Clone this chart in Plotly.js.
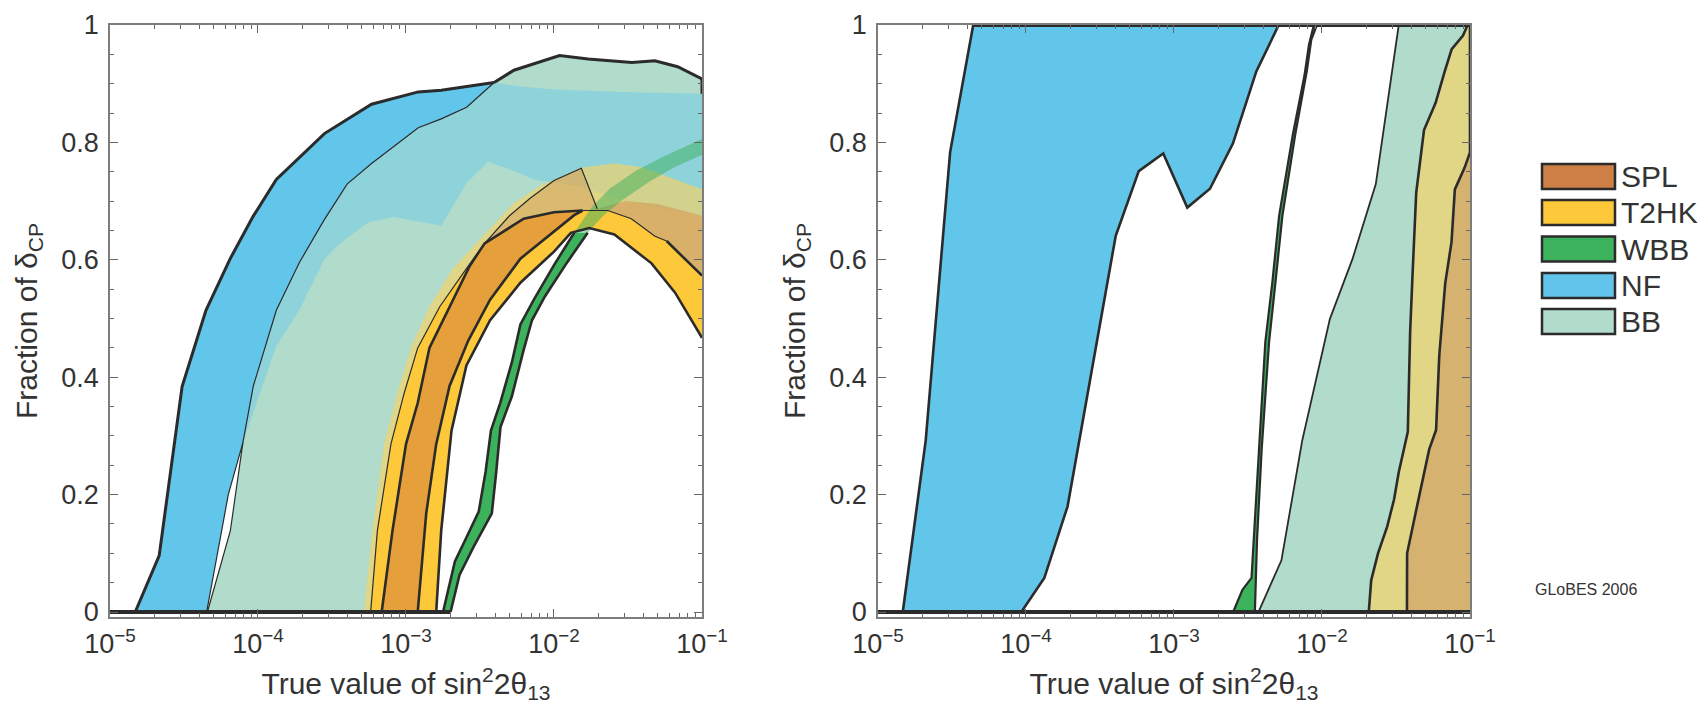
<!DOCTYPE html>
<html><head><meta charset="utf-8">
<script src="https://cdn.plot.ly/plotly-3.0.1.min.js"></script>
<style>html,body{margin:0;padding:0;background:#fff}</style>
</head><body><div id="chart" style="width:1703px;height:706px"></div>
<script>
// ---------------- axis ticks ----------------
const X_TICK_VALS = [1e-5, 1e-4, 1e-3, 1e-2, 1e-1];
const X_TICK_TEXT = ['10<sup>−5</sup>','10<sup>−4</sup>','10<sup>−3</sup>','10<sup>−2</sup>','10<sup>−1</sup>'];
const Y_TICK_VALS = [0, 0.2, 0.4, 0.6, 0.8, 1];
const Y_TICK_TEXT = ['0','0.2','0.4','0.6','0.8','1'];

// ---------------- legend ----------------
const LEGEND_NAMES = ['SPL','T2HK','WBB','NF','BB'];
const LEGEND_COLORS = ['#CD7F46','#FDC93A','#3BB25B','#62C4EA','#B1DBCB'];

// ---------------- LEFT PANEL (CP violation) ----------------
const NF_L_OUTER_X = [1.48e-5,2.15e-5,3.07e-5,4.45e-5,6.49e-5,9.27e-5,1.33e-4,2.81e-4,5.85e-4,1.21e-3,1.73e-3,3.94e-3];
const NF_L_OUTER_Y = [0,0.096,0.384,0.514,0.602,0.674,0.737,0.815,0.865,0.886,0.889,0.902];
const NF_L_INNER_X = [4.5e-5,6.3e-5,7.9e-5];
const NF_L_INNER_Y = [0,0.2,0.288];
const BB_L_EDGE_X = [4.55e-5,6.5e-5,7.9e-5,9.3e-5,1.33e-4,1.9e-4,2.8e-4,4.0e-4,5.85e-4,1.21e-3,1.73e-3,2.57e-3,3.94e-3];
const BB_L_EDGE_Y = [0,0.138,0.288,0.385,0.514,0.595,0.668,0.729,0.764,0.825,0.84,0.86,0.902];
const BB_L_TOP_X = [3.94e-3,5.36e-3,1.09e-2,1.7e-2,3.36e-2,4.8e-2,6.85e-2,1e-1];
const BB_L_TOP_Y = [0.902,0.923,0.948,0.942,0.936,0.939,0.929,0.908];
const NF_L_HIDDEN_X = [3.94e-3,5.5e-3,1e-2,3e-2,1e-1];
const NF_L_HIDDEN_Y = [0.902,0.896,0.89,0.886,0.883];
const NF_L_LOWER_X = [7.9e-5,1.33e-4,1.9e-4,2.8e-4,3.5e-4,5.6e-4,8.3e-4,1.73e-3,2.57e-3,3.6e-3,5.3e-3,7.3e-3,1.5e-2,3e-2,1e-1];
const NF_L_LOWER_Y = [0.288,0.453,0.514,0.60,0.626,0.664,0.673,0.658,0.731,0.767,0.752,0.737,0.725,0.70,0.675];
const TT_L_OUTER_X = [5.2e-4,5.93e-4,7.11e-4,8.77e-4,1.08e-3,1.44e-3,2.08e-3,3.0e-3,5.33e-3,8.1e-3,1.52e-2,2.56e-2,3.9e-2,6.6e-2,1e-1];
const TT_L_OUTER_Y = [0,0.139,0.286,0.374,0.45,0.52,0.585,0.629,0.696,0.726,0.757,0.764,0.758,0.737,0.72];
const C1_LOW_X = [5.77e-4,6.41e-4,7.91e-4,9.75e-4,1.2e-3,1.69e-3,2.56e-3,3.4e-3];
const C1_LOW_Y = [0,0.139,0.286,0.374,0.45,0.52,0.585,0.628];
const C1_UP_X = [3.4e-3,5.0e-3,6.9e-3,1.0e-2,1.53e-2,1.96e-2];
const C1_UP_Y = [0.628,0.675,0.705,0.735,0.756,0.687];
const C2_X = [6.85e-4,8.11e-4,1.0e-3,1.2e-3,1.44e-3,1.97e-3,2.7e-3,3.4e-3];
const C2_Y = [0,0.139,0.286,0.356,0.45,0.52,0.59,0.628];
const OTOP_X = [3.4e-3,6.24e-3,1.0e-2,1.56e-2];
const OTOP_Y = [0.628,0.67,0.681,0.684];
const C3_X = [1.2e-3,1.37e-3,1.6e-3,1.97e-3,2.63e-3,3.7e-3,5.93e-3,1.0e-2,1.37e-2,1.56e-2];
const C3_Y = [0,0.168,0.286,0.385,0.462,0.532,0.602,0.649,0.676,0.684];
const C4_X = [1.6e-3,1.73e-3,2.03e-3,2.56e-3,3.7e-3,5.93e-3,1.0e-2,1.3e-2,1.73e-2];
const C4_Y = [0,0.139,0.309,0.42,0.497,0.561,0.614,0.646,0.654];
const Y2L_X = [1.73e-2,2.56e-2,4.56e-2,6.58e-2,1e-1];
const Y2L_Y = [0.654,0.643,0.594,0.544,0.467];
const Y2U_X = [1.56e-2,2.31e-2,3.33e-2,4.81e-2,5.77e-2,1e-1];
const Y2U_Y = [0.684,0.684,0.67,0.64,0.632,0.573];
const ST_R_TOP_X = [1.96e-2,3e-2,5e-2,1e-1];
const ST_R_TOP_Y = [0.687,0.70,0.695,0.675];
const WBB_L_LEFT_X = [1.78e-3,2.14e-3,2.56e-3,3.1e-3,3.45e-3,3.75e-3,4.33e-3,5.2e-3,5.93e-3,7.31e-3,1.0e-2,1.37e-2];
const WBB_L_LEFT_Y = [0,0.086,0.127,0.171,0.239,0.309,0.356,0.426,0.49,0.532,0.591,0.646];
const WBB_L_RIGHT_X = [2.0e-3,2.3e-3,2.85e-3,3.8e-3,4.05e-3,4.35e-3,5.2e-3,6.2e-3,7.1e-3,8.7e-3,1.23e-2,1.69e-2];
const WBB_L_RIGHT_Y = [0,0.063,0.11,0.168,0.233,0.315,0.368,0.444,0.497,0.538,0.596,0.646];
const WBB_L_EXT_UP_X = [1.37e-2,1.8e-2,2.4e-2,3.6e-2,5.5e-2,1e-1];
const WBB_L_EXT_UP_Y = [0.646,0.69,0.722,0.752,0.776,0.806];
const WBB_L_EXT_LO_X = [1.69e-2,2.15e-2,2.9e-2,4.4e-2,6.4e-2,1e-1];
const WBB_L_EXT_LO_Y = [0.646,0.675,0.702,0.733,0.757,0.779];

// ---------------- RIGHT PANEL (mass hierarchy) ----------------
const NF_R_LEFT_X = [1.47e-5,2.1e-5,3.07e-5,4.4e-5];
const NF_R_LEFT_Y = [0,0.292,0.783,1];
const NF_R_RIGHT_X = [5.1e-3,3.6e-3,2.5e-3,1.75e-3,1.23e-3,8.46e-4,5.78e-4,4.04e-4,1.91e-4,1.33e-4,9.3e-5];
const NF_R_RIGHT_Y = [1,0.921,0.798,0.721,0.689,0.781,0.751,0.641,0.18,0.058,0];
const WBB_R_LEFT_X = [2.51e-3,2.9e-3,3.34e-3,3.46e-3,3.72e-3,4.14e-3,4.61e-3,5.13e-3,6.35e-3,7.6e-3,8.17e-3,8.77e-3,9.1e-3];
const WBB_R_LEFT_Y = [0,0.038,0.058,0.123,0.276,0.46,0.56,0.675,0.813,0.913,0.967,0.998,1];
const WBB_R_RIGHT_X = [3.52e-3,3.64e-3,3.91e-3,4.39e-3,4.84e-3,5.4e-3,6.59e-3,7.89e-3,8.47e-3,9.23e-3];
const WBB_R_RIGHT_Y = [0,0.123,0.276,0.46,0.56,0.675,0.813,0.921,0.975,1];
const BB_R_EDGE_X = [3.72e-3,5.32e-3,7.35e-3,1.13e-2,1.61e-2,2.31e-2,3.3e-2];
const BB_R_EDGE_Y = [0,0.088,0.292,0.499,0.602,0.729,1];
const T2HK_R_EDGE_X = [2.07e-2,2.15e-2,2.39e-2,2.76e-2,3.07e-2,3.3e-2,3.8e-2,3.94e-2,4.08e-2,4.33e-2,4.89e-2,5.85e-2,6.75e-2,7.52e-2,8.97e-2,9.64e-2];
const T2HK_R_EDGE_Y = [0,0.054,0.1,0.146,0.192,0.238,0.307,0.476,0.568,0.714,0.821,0.867,0.921,0.959,0.982,1];
const SPL_R_EDGE_X = [3.75e-2,3.76e-2,4.3e-2,5.3e-2,5.9e-2,6.2e-2,6.8e-2,7.5e-2,7.9e-2,9.2e-2,1e-1];
const SPL_R_EDGE_Y = [0,0.1,0.17,0.277,0.31,0.437,0.56,0.63,0.72,0.757,0.783];

// ---------------- helpers ----------------
const XMIN = X_TICK_VALS[0], XMAX = X_TICK_VALS[X_TICK_VALS.length-1];
const YMIN = Y_TICK_VALS[0], YMAX = Y_TICK_VALS[Y_TICK_VALS.length-1];
const LINE = '#2b2b2b';
const rev = a => a.slice().reverse();
const cat = (...a) => [].concat(...a);
function poly(xs, ys, color, p) {
  return {type:'scatter', mode:'lines', x:xs, y:ys, fill:'toself', fillcolor:color,
    line:{width:0, color:'rgba(0,0,0,0)'}, hoverinfo:'skip', showlegend:false,
    xaxis: p===2?'x2':'x', yaxis: p===2?'y2':'y'};
}
function ln(xs, ys, w, p) {
  return {type:'scatter', mode:'lines', x:xs, y:ys, line:{width:w, color:LINE},
    hoverinfo:'skip', showlegend:false, xaxis: p===2?'x2':'x', yaxis: p===2?'y2':'y'};
}

const traces = [];
// ---- left panel fills ----
traces.push(poly(
  cat(BB_L_EDGE_X, BB_L_TOP_X, rev(Y2U_X), rev(OTOP_X), rev(C1_LOW_X)),
  cat(BB_L_EDGE_Y, BB_L_TOP_Y, rev(Y2U_Y), rev(OTOP_Y), rev(C1_LOW_Y)), '#B1DBCB', 1));
traces.push(poly(
  cat(BB_L_EDGE_X.slice(2), NF_L_HIDDEN_X.slice(1), rev(NF_L_LOWER_X)),
  cat(BB_L_EDGE_Y.slice(2), NF_L_HIDDEN_Y.slice(1), rev(NF_L_LOWER_Y)), '#8FD3DA', 1));
traces.push(poly(
  cat(NF_L_OUTER_X, rev(BB_L_EDGE_X.slice(2)), rev(NF_L_INNER_X)),
  cat(NF_L_OUTER_Y, rev(BB_L_EDGE_Y.slice(2)), rev(NF_L_INNER_Y)), '#62C5EA', 1));
traces.push(poly(
  cat(TT_L_OUTER_X, rev(Y2U_X), rev(OTOP_X), rev(C1_LOW_X)),
  cat(TT_L_OUTER_Y, rev(Y2U_Y), rev(OTOP_Y), rev(C1_LOW_Y)), 'rgba(255,210,90,0.6)', 1));
traces.push(poly(
  cat(C1_LOW_X, OTOP_X.slice(1), Y2U_X.slice(1), rev(Y2L_X), rev(C4_X)),
  cat(C1_LOW_Y, OTOP_Y.slice(1), Y2U_Y.slice(1), rev(Y2L_Y), rev(C4_Y)), '#FDC93A', 1));
traces.push(poly(cat(C2_X, OTOP_X.slice(1), rev(C3_X)), cat(C2_Y, OTOP_Y.slice(1), rev(C3_Y)), 'rgba(205,120,60,0.5)', 1));
traces.push(poly(cat(C1_UP_X, rev(OTOP_X)), cat(C1_UP_Y, rev(OTOP_Y)), 'rgba(205,120,60,0.3)', 1));
traces.push(poly(cat(ST_R_TOP_X, rev(Y2U_X)), cat(ST_R_TOP_Y, rev(Y2U_Y)), 'rgba(205,120,60,0.4)', 1));
traces.push(poly(cat(WBB_L_EXT_UP_X, rev(WBB_L_EXT_LO_X)), cat(WBB_L_EXT_UP_Y, rev(WBB_L_EXT_LO_Y)), 'rgba(58,176,91,0.5)', 1));
traces.push(poly(cat(WBB_L_LEFT_X, rev(WBB_L_RIGHT_X)), cat(WBB_L_LEFT_Y, rev(WBB_L_RIGHT_Y)), '#3BB25B', 1));
// ---- left panel lines ----
traces.push(ln([XMIN, WBB_L_RIGHT_X[0]], [YMIN, YMIN], 4, 1));
traces.push(ln(NF_L_OUTER_X, NF_L_OUTER_Y, 3, 1));
traces.push(ln(NF_L_INNER_X, NF_L_INNER_Y, 1.2, 1));
traces.push(ln(BB_L_EDGE_X, BB_L_EDGE_Y, 1.2, 1));
traces.push(ln(BB_L_TOP_X, BB_L_TOP_Y, 3, 1));
traces.push(ln([XMAX, XMAX], [BB_L_TOP_Y[BB_L_TOP_Y.length-1], NF_L_HIDDEN_Y[NF_L_HIDDEN_Y.length-1]], 3, 1));
traces.push(ln(cat(C1_LOW_X, C1_UP_X.slice(1)), cat(C1_LOW_Y, C1_UP_Y.slice(1)), 1.2, 1));
traces.push(ln(cat(C2_X, OTOP_X.slice(1)), cat(C2_Y, OTOP_Y.slice(1)), 2.6, 1));
traces.push(ln(C3_X, C3_Y, 2.6, 1));
traces.push(ln(cat(C4_X, Y2L_X.slice(1)), cat(C4_Y, Y2L_Y.slice(1)), 2.6, 1));
traces.push(ln(Y2U_X.slice(0,5), Y2U_Y.slice(0,5), 1.2, 1));
traces.push(ln(Y2U_X.slice(4), Y2U_Y.slice(4), 2.6, 1));
traces.push(ln(WBB_L_LEFT_X, WBB_L_LEFT_Y, 2.6, 1));
traces.push(ln(WBB_L_RIGHT_X, WBB_L_RIGHT_Y, 2.6, 1));

// ---- right panel fills ----
traces.push(poly(cat(BB_R_EDGE_X, [XMAX, XMAX]), cat(BB_R_EDGE_Y, [YMAX, YMIN]), '#B1DBCB', 2));
traces.push(poly(cat(T2HK_R_EDGE_X, [XMAX, XMAX]), cat(T2HK_R_EDGE_Y, [YMAX, YMIN]), '#E0D685', 2));
traces.push(poly(cat(SPL_R_EDGE_X, [XMAX]), cat(SPL_R_EDGE_Y, [YMIN]), '#D5B26F', 2));
traces.push(poly(cat(NF_R_LEFT_X, NF_R_RIGHT_X), cat(NF_R_LEFT_Y, NF_R_RIGHT_Y), '#62C5EA', 2));
traces.push(poly(cat(WBB_R_LEFT_X, rev(WBB_R_RIGHT_X)), cat(WBB_R_LEFT_Y, rev(WBB_R_RIGHT_Y)), '#3BB25B', 2));
// ---- right panel lines ----
traces.push(ln(BB_R_EDGE_X, BB_R_EDGE_Y, 1.8, 2));
traces.push(ln(T2HK_R_EDGE_X, T2HK_R_EDGE_Y, 2.6, 2));
traces.push(ln(cat(SPL_R_EDGE_X, [XMAX]), cat(SPL_R_EDGE_Y, [YMAX]), 2.6, 2));
traces.push(ln(NF_R_LEFT_X, NF_R_LEFT_Y, 2.6, 2));
traces.push(ln(NF_R_RIGHT_X, NF_R_RIGHT_Y, 2.6, 2));
traces.push(ln(WBB_R_LEFT_X, WBB_R_LEFT_Y, 2.2, 2));
traces.push(ln(WBB_R_RIGHT_X, WBB_R_RIGHT_Y, 2.2, 2));
traces.push(ln([XMIN, XMAX], [YMIN, YMIN], 4, 2));
traces.push(ln([NF_R_LEFT_X[NF_R_LEFT_X.length-1], XMAX], [YMAX, YMAX], 4, 2));

// ---------------- layout ----------------
const minorX = [];
for (let e = -5; e < -1; e++) for (let m = 2; m <= 9; m++) minorX.push(m * Math.pow(10, e));
const FONT = 'Liberation Sans';
const TXT = '#333333';
function xax(domain, anchor) {
  return {domain, anchor, type:'log', range:[-5,-1], tickmode:'array', tickvals:X_TICK_VALS, ticktext:X_TICK_TEXT,
    ticks:'inside', ticklen:8, tickwidth:1.2, tickcolor:'#666', showline:true, linecolor:'#7d7d7d', linewidth:1.5,
    mirror:'allticks', showgrid:false, zeroline:false, tickfont:{size:27, family:FONT, color:TXT},
    minor:{tickmode:'array', tickvals:minorX, ticks:'inside', ticklen:4, tickwidth:1, tickcolor:'#666', showgrid:false},
    title:{text:'True value of sin<sup>2</sup>2θ<sub>13</sub>', font:{size:30, family:FONT, color:TXT}, standoff:15},
    ticklabelstandoff:2, automargin:false};
}
function yax(anchor) {
  return {domain:[0.12606,0.96459], anchor, range:[-0.0085,1], tickmode:'array', tickvals:Y_TICK_VALS, ticktext:Y_TICK_TEXT,
    ticks:'inside', ticklen:8, tickwidth:1.2, tickcolor:'#666', showline:true, linecolor:'#7d7d7d', linewidth:1.5,
    mirror:'allticks', showgrid:false, zeroline:false, tickfont:{size:27, family:FONT, color:TXT},
    minor:{dtick:0.05, tick0:0, ticks:'inside', ticklen:4, tickwidth:1, tickcolor:'#666', showgrid:false},
    title:{text:'Fraction of δ<sub>CP</sub>', font:{size:30, family:FONT, color:TXT}, standoff:15},
    ticklabelstandoff:4, automargin:false};
}
const shapes = [], annotations = [];
const LEG_TOP = [164,200,236.5,273,309];
LEGEND_NAMES.forEach((n, i) => {
  const t = LEG_TOP[i], b = t + 25;
  shapes.push({type:'rect', xref:'paper', yref:'paper', x0:1542/1703, x1:1615/1703, y0:1-b/706, y1:1-t/706,
    fillcolor:LEGEND_COLORS[i], line:{color:LINE, width:2.5}});
  annotations.push({xref:'paper', yref:'paper', x:1619/1703, y:1-(t+12.5)/706, xanchor:'left', yanchor:'middle',
    text:n, showarrow:false, font:{size:30, family:FONT, color:TXT}});
});
annotations.push({xref:'paper', yref:'paper', x:1533/1703, y:1-589/706, xanchor:'left', yanchor:'middle',
  text:'GLoBES 2006', showarrow:false, font:{size:16, family:FONT, color:TXT}});

const layout = {
  width:1703, height:706, margin:{l:0,r:0,t:0,b:0,pad:0}, paper_bgcolor:'#fff', plot_bgcolor:'#fff',
  showlegend:false, font:{family:FONT, color:TXT, size:27},
  xaxis: xax([0.06459,0.41221],'y'), yaxis: yax('x'),
  xaxis2: xax([0.51556,0.86318],'y2'), yaxis2: yax('x2'),
  shapes, annotations
};
Plotly.newPlot('chart', traces, layout, {displayModeBar:false}).then(gd => {
  // mirror the computed font size onto each text node as an explicit attribute
  gd.querySelectorAll('text').forEach(t => {
    const cs = window.getComputedStyle(t);
    const fs = parseFloat(cs.fontSize);
    if (fs) t.setAttribute('font-size', fs);
    t.setAttribute('font-family', FONT);
  });
});
</script></body></html>
